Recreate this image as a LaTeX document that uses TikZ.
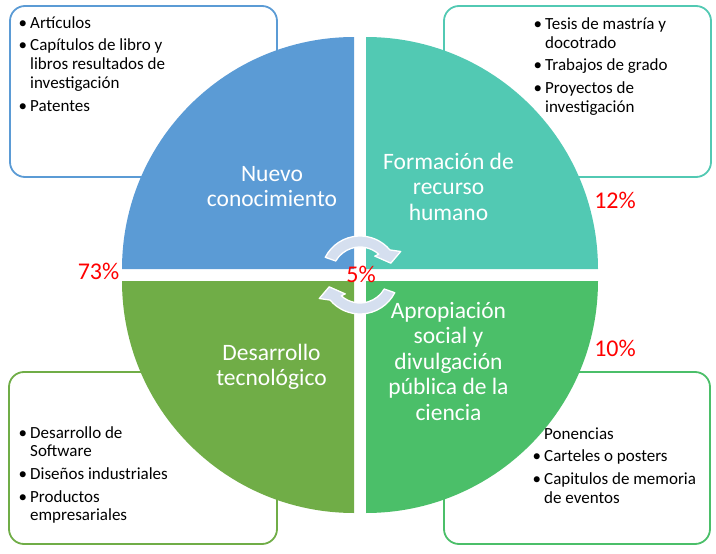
\documentclass[tikz,border=0pt]{standalone}
\usepackage{fontspec}
\setmainfont{Carlito}
\usetikzlibrary{calc}
\definecolor{qblue}{HTML}{5B9BD5}
\definecolor{qteal}{HTML}{52C9B3}
\definecolor{qolive}{HTML}{70AD47}
\definecolor{qgreen}{HTML}{4BBF69}
\definecolor{arrowfill}{HTML}{D5DFEF}
\definecolor{pctred}{HTML}{FF0000}
\newcommand{\lnbrk}{\hfil\break}
\newcommand{\listsetup}{\parskip=3.8pt\relax\let\\\lnbrk}
\newcommand{\bitem}[1]{\par\hangindent=11.5pt\hangafter=1\noindent\makebox[11.5pt][l]{•}#1}
\begin{document}
\begin{tikzpicture}[x=1pt,y=-1pt,
 box/.style={draw, line width=1.8pt, rounded corners=15pt, fill=white},
 lbl/.style={text=white, inner sep=0, anchor=base, font=\fontsize{23.5}{25.5}\selectfont},
 pct/.style={text=pctred, inner sep=0, font=\fontsize{24}{28}\selectfont},
 list/.style={inner sep=0, anchor=base west, font=\fontsize{17}{18.8}\selectfont},
 cyc/.style={fill=arrowfill, draw=white, line width=1.3pt, line join=round}]
\useasboundingbox (0,0) rectangle (716,554);
% corner boxes
\draw[box, draw=qblue] (10,6) rectangle (277,177);
\draw[box, draw=qteal] (444,6) rectangle (711,177);
\draw[box, draw=qolive] (9,372) rectangle (277,544);
\draw[box, draw=qgreen] (444,372) rectangle (710,544);
% quadrants
\fill[qblue] (354,269) -- (122,269) arc (180:270:232) -- cycle;
\fill[qteal] (366,269) -- (366,37) arc (270:360:232) -- cycle;
\fill[qolive] (354,281) -- (354,513) arc (90:180:232) -- cycle;
\fill[qgreen] (366,281) -- (598,281) arc (0:90:232) -- cycle;
% lists
\node[list] (tl) at (18.5,28.3) {\parbox[t]{250pt}{\listsetup
 \bitem{Artículos}
 \bitem{Capítulos de libro y\\libros resultados de\\investigación}
 \bitem{Patentes}}};
\node[list] (tr) at (533.5,29.3) {\parbox[t]{170pt}{\listsetup
 \bitem{Tesis de mastría y\\docotrado}
 \bitem{Trabajos de grado}
 \bitem{Proyectos de\\investigación}}};
\node[list] (bl) at (18.5,438) {\parbox[t]{250pt}{\listsetup
 \bitem{Desarrollo de\\Software}
 \bitem{Diseños industriales}
 \bitem{Productos\\empresariales}}};
\node[list] (br) at (532.5,439) {\parbox[t]{175pt}{\listsetup
 \par\noindent\hspace*{11.5pt}Ponencias
 \bitem{Carteles o posters}
 \bitem{Capitulos de memoria\\de eventos}}};
% quadrant labels
\node[lbl] (nuevo) at (272,181) {\parbox[t]{200pt}{\centering Nuevo\\conocimiento}};
\node[lbl] (form) at (448.5,169) {\parbox[t]{200pt}{\centering Formación de\\recurso\\humano}};
\node[lbl] (desa) at (271.5,360) {\parbox[t]{200pt}{\centering Desarrollo\\tecnológico}};
\node[lbl] (apro) at (448.5,318) {\parbox[t]{200pt}{\centering Apropiación\\social y\\divulgación\\pública de la\\ciencia}};
% cycle arrows
\coordinate (C) at (360,275);
\path[cyc] ($(C)+(-153:39)$) arc[start angle=-153,end angle=-40,radius=39]
  -- ($(C)+(-30:47)$) -- ($(C)+(-21:33)$) -- ($(C)+(-52:24)$)
  -- ($(C)+(-48:28)$) arc[start angle=-48,end angle=-150,radius=28] -- cycle;
\path[cyc] ($(C)+(27:39)$) arc[start angle=27,end angle=140,radius=39]
  -- ($(C)+(150:47)$) -- ($(C)+(159:33)$) -- ($(C)+(128:24)$)
  -- ($(C)+(132:28)$) arc[start angle=132,end angle=30,radius=28] -- cycle;
% percentages
\node[pct] (p73) at (98.5,271) {73\%};
\node[pct] (p5) at (361,274) {5\%};
\node[pct] (p12) at (615,200) {12\%};
\node[pct] (p10) at (615,348) {10\%};
\end{tikzpicture}
\end{document}
